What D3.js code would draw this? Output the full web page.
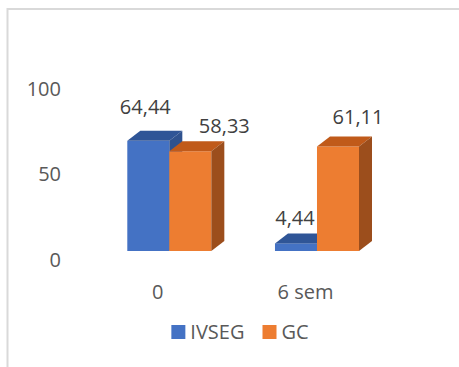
<!DOCTYPE html>
<html>
<head>
<meta charset="utf-8">
<script src="https://cdn.jsdelivr.net/npm/d3@7"></script>
<style>
  html, body { margin: 0; padding: 0; background: #fff; }
  svg { display: block; font-family: "Open Sans", sans-serif; }
</style>
</head>
<body>
<svg id="chart" width="459" height="367"></svg>
<script>
// ---- data ----
const categories = ["0", "6 sem"];
const seriesNames = ["IVSEG", "GC"];
const ivsegValues = [64.44, 4.44];
const gcValues = [58.33, 61.11];
const yTicks = [0, 50, 100];
const valueLabels = [["64,44", "4,44"], ["58,33", "61,11"]];

// ---- layout / style ----
const W = 459, H = 367;
const front = ["#4472C4", "#ED7D31"];
const topC = ["#2F5597", "#C05A1A"];
const sideC = ["#2F528F", "#9C4E1C"];
const DX = 13, DY = 10;
// per-label nudges (placement like the source; [series][category])
const labelNudge = [[[-3, -34], [-1, -25]], [[34, -25], [20, -30]]];

const svg = d3.select("#chart");

// border (top and left edges visible)
svg.append("line").attr("x1", 7.5).attr("x2", W).attr("y1", 9).attr("y2", 9)
  .attr("stroke", "#d9d9d9").attr("stroke-width", 2);
svg.append("line").attr("x1", 7.5).attr("x2", 7.5).attr("y1", 8).attr("y2", H)
  .attr("stroke", "#d9d9d9").attr("stroke-width", 2);

const y = d3.scaleLinear().domain([0, 100]).range([251, 80]);
const x = d3.scaleBand().domain(categories).range([95.4, 390.9])
  .paddingInner(0.431).paddingOuter(0.216);
const xs = d3.scaleBand().domain(seriesNames).range([0, x.bandwidth()]);

// y axis labels
const yAxis = d3.axisLeft(y).tickValues(yTicks).tickSize(0).tickPadding(3);
const ga = svg.append("g").attr("transform", "translate(64,9)").call(yAxis);
ga.select(".domain").remove();
ga.selectAll("text").attr("font-size", 20).attr("fill", "#595959")
  .attr("font-family", "Open Sans, sans-serif");

// bars
const seriesValues = [ivsegValues, gcValues];
const barsData = [];
categories.forEach((c, ci) => {
  seriesNames.forEach((s, si) => {
    barsData.push({ c, ci, s, si, v: seriesValues[si][ci] });
  });
});

const gb = svg.append("g");
barsData.forEach(d => {
  const x0 = x(d.c) + xs(d.s), x1 = x0 + xs.bandwidth();
  const y0 = y(0), y1 = y(d.v);
  const g = gb.append("g");
  g.append("rect").attr("x", x0).attr("y", y1).attr("width", x1 - x0).attr("height", y0 - y1)
    .attr("fill", front[d.si]);
  g.append("path").attr("d", `M${x0},${y1}L${x0 + DX},${y1 - DY}L${x1 + DX},${y1 - DY}L${x1},${y1}Z`)
    .attr("fill", topC[d.si]);
  g.append("path").attr("d", `M${x1},${y1}L${x1 + DX},${y1 - DY}L${x1 + DX},${y0 - DY}L${x1},${y0}Z`)
    .attr("fill", sideC[d.si]);
});

// value labels
barsData.forEach(d => {
  const cx = x(d.c) + xs(d.s) + xs.bandwidth() / 2;
  const n = labelNudge[d.si][d.ci];
  svg.append("text").attr("x", cx + n[0]).attr("y", y(d.v) + n[1] + 7)
    .attr("text-anchor", "middle").attr("font-size", 20).attr("fill", "#404040")
    .text(valueLabels[d.si][d.ci]);
});

// category labels
categories.forEach(c => {
  svg.append("text").attr("x", x(c) + x.bandwidth() / 2 - 11.5).attr("y", 299)
    .attr("text-anchor", "middle").attr("font-size", 20).attr("fill", "#595959").text(c);
});

// legend
const lg = svg.append("g");
let lx = 0;
seriesNames.forEach((s, i) => {
  lg.append("rect").attr("x", lx).attr("y", 325).attr("width", 14).attr("height", 14)
    .attr("fill", front[i]);
  const t = lg.append("text").attr("x", lx + 19).attr("y", 339).attr("font-size", 20)
    .attr("fill", "#595959").text(s);
  lx += 19 + t.node().getComputedTextLength() + 18;
});
const lw = lx - 18;
lg.attr("transform", `translate(${240 - lw / 2},0)`);
</script>
</body>
</html>
